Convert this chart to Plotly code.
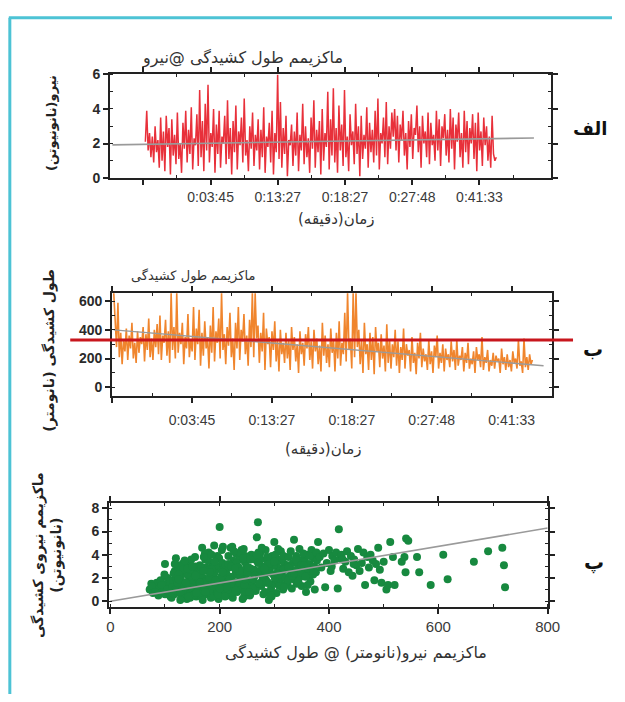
import numpy as np
import plotly.graph_objects as go

# ---------------------------------------------------------------- data
# (الف) maximum force per event, nN, in recording order
force_nn = [
    2.1, 3.9, 1.6, 2.6, 1.2, 2.4, 0.9, 3.0, 1.5, 2.2,
    0.6, 3.5, 1.0, 2.7, 0.4, 3.6, 1.8, 2.9, 0.2, 3.4,
    1.3, 2.5, 0.8, 3.8, 1.1, 2.0, 0.3, 3.2, 1.7, 3.9,
    0.9, 2.8, 1.4, 4.1, 0.5, 2.3, 1.9, 3.7,
    0.7, 5.1, 1.2, 3.3, 0.4, 4.3, 1.6, 5.4, 0.9, 2.6,
    1.8, 4.0, 0.3, 3.1, 1.4, 3.9, 0.6, 2.4, 2.0, 3.6,
    0.8, 4.5, 1.1, 2.9, 0.2, 3.3, 1.5, 4.2, 0.5, 2.7,
    1.9, 3.5, 0.9, 4.6, 1.3, 2.2, 0.4, 3.0, 1.7, 3.8,
    0.7, 2.5,
    1.6, 3.4, 0.5, 2.8, 1.2, 4.1, 0.3, 2.4, 1.8, 3.2,
    0.9, 3.9, 0.2, 2.6, 1.5, 6.0, 1.1, 4.4, 0.6, 2.9,
    1.4, 3.6, 0.1, 2.2, 1.9, 3.1, 0.7, 2.7, 1.3, 3.8,
    0.4, 2.5, 1.6, 4.3, 0.8, 3.0, 1.2, 2.3, 0.3, 3.5,
    1.7, 4.5,
    0.6, 2.8, 1.5, 3.3, 0.2, 4.0, 1.0, 2.6, 1.8, 5.0,
    0.5, 3.4, 1.3, 5.2, 0.9, 2.9, 0.3, 4.2, 1.6, 3.1,
    0.7, 5.1, 1.2, 2.4, 0.4, 3.7, 1.9, 2.7, 0.8, 4.3,
    1.4, 3.0, 0.1, 3.6, 1.1, 2.5, 1.7, 4.1, 0.6, 3.2,
    1.5, 2.8, 0.9, 3.9, 1.3, 4.6, 0.5, 2.6, 2.0, 3.5,
    1.2, 4.4, 0.8, 3.0, 1.7, 3.8,
    2.4, 4.0, 1.6, 3.6, 0.9, 3.1, 2.2, 3.9, 1.3, 2.6,
    0.5, 3.3, 1.8, 3.7, 1.1, 2.9, 2.5, 4.2, 1.5, 3.0,
    0.6, 3.6, 2.0, 2.7, 1.2, 3.8, 0.8, 3.2, 1.9, 2.5,
    1.0, 3.9, 1.6, 3.4, 0.7, 3.0, 2.3, 3.7, 1.3, 2.8,
    0.9, 4.0, 1.7, 3.5, 0.5, 3.1, 2.1, 3.8, 1.2, 2.6,
    0.6, 3.9, 1.5, 3.3, 0.8, 2.9, 2.0, 3.7, 1.1, 3.2,
    0.4, 3.8, 1.6, 2.7, 0.7, 3.5, 1.9, 3.0, 1.0, 2.4,
    0.6, 3.6, 1.4, 1.0, 1.2,
]
force_trend_t = [-0.46, 5.81]
force_trend_nn = [1.92, 2.32]

# (ب) maximum extension length per event, nm
extension_nm = [
    660, 420, 280, 590, 210, 380, 160, 330, 250, 410,
    190, 360, 270, 450, 200, 310, 170, 390, 240, 350,
    300, 420, 180, 370, 260, 480, 210, 340, 190, 400,
    280, 440,
    230, 500, 190, 360, 310, 470, 220, 390, 170, 660,
    260, 420, 200, 660, 240, 380, 300, 450, 160, 350,
    270, 510, 210, 330, 250, 560, 190, 410,
    300, 540, 150, 380, 220, 460, 270, 350, 130, 430,
    240, 560, 180, 390, 310, 480, 200, 660, 260, 370,
    160, 420, 290, 520, 210, 340, 120, 450,
    270, 560, 190, 400, 320, 510, 230, 360, 150, 470,
    280, 660, 210, 660, 340, 430, 170, 380, 250, 520,
    120, 410, 300, 350, 140, 390, 260, 460, 180, 330,
    110, 400, 230, 310, 170,
    380, 200, 330, 120, 420, 260, 350, 180, 300, 100,
    390, 230, 310, 150, 370, 270, 420, 190, 320, 130,
    400, 250, 340, 160, 290, 110, 450, 220, 360, 170,
    300, 140, 410, 240, 330, 110, 380, 200, 460, 150,
    310, 230,
    520, 180, 660, 260, 340, 130, 660, 210, 660, 280,
    400, 160, 330, 100, 450, 230, 300, 120, 380, 190,
    350, 90, 420, 250, 310, 140, 370, 200, 290, 110,
    440, 170, 330, 130, 300,
    210, 400, 150, 320, 100, 280, 190, 410, 130, 300,
    220, 260, 110, 350, 170, 240, 90, 310, 200, 380,
    140, 270, 180, 230, 120, 330, 160, 250, 100, 290,
    210, 360, 130, 240, 170, 300, 110, 270, 190, 230,
    140, 320,
    180, 260, 120, 330, 150, 220, 190, 280, 110, 240,
    170, 310, 130, 200, 160, 250, 100, 280, 190, 230,
    140, 350, 120, 210, 170, 260, 110, 190, 150, 240,
    130, 220, 180, 200, 100, 270, 160, 210, 120, 230,
    140, 190, 110, 250, 170, 200, 130, 330, 150, 180,
    100, 340, 140, 210, 120, 230, 160, 190,
]
extension_trend_t = [0.02, 5.4]
extension_trend_nm = [400, 150]
extension_mean_nm = 330

# time tick labels (minutes)
time_ticks = ["0:03:45", "0:13:27", "0:18:27", "0:27:48", "0:41:33"]

# (پ) force at maximum extension vs extension
scatter_ext_nm = [
    72, 75, 78, 80, 83, 85, 88, 90, 92, 95, 97, 100, 100, 103, 105, 107, 108, 110, 76, 86,
    94, 99, 104, 82, 109,
    112, 115, 118, 120, 122, 125, 127, 130, 132, 135, 137, 140, 142, 145, 147, 150, 152, 155, 157, 160,
    113, 117, 121, 124, 128, 131, 134, 138, 141, 144, 148, 151, 154, 158, 116, 119, 126, 133, 139, 146,
    153, 159, 114, 123, 129, 136, 143, 149, 156, 120, 125, 135, 145, 155, 118,
    162, 164, 166, 168, 170, 172, 174, 176, 178, 180, 182, 184, 186, 188, 190, 192, 194, 196, 198, 200,
    202, 204, 206, 208, 210, 163, 167, 171, 175, 179, 183, 187, 191, 195, 199, 203, 207, 165, 173, 181,
    189, 197, 205, 169, 177, 185, 193, 201, 209, 200, 161, 171, 186, 196, 206, 176, 191, 166, 181, 203,
    212, 214, 216, 218, 220, 222, 224, 226, 228, 230, 232, 234, 236, 238, 240, 242, 244, 246, 248, 250,
    252, 254, 256, 258, 260, 213, 217, 221, 225, 229, 233, 237, 241, 245, 249, 253, 257, 215, 223, 231,
    239, 247, 255, 219, 227, 235, 243, 251, 259, 211, 226, 236, 246, 256, 221, 241, 216, 231, 251, 244,
    262, 264, 266, 268, 270, 272, 274, 276, 278, 280, 282, 284, 286, 288, 290, 292, 294, 296, 298, 300,
    302, 304, 306, 308, 310, 312, 314, 316, 318, 320, 263, 267, 271, 275, 279, 283, 287, 291, 295, 299,
    303, 307, 311, 315, 319, 270, 268, 285, 300, 290, 265, 277, 289, 305, 317,
    322, 324, 326, 328, 330, 332, 334, 336, 338, 340, 342, 344, 346, 348, 350, 352, 354, 356, 358, 360,
    362, 364, 366, 368, 370, 372, 374, 376, 378, 380, 325, 331, 335, 341, 347, 353, 359, 365, 371, 377,
    329, 339, 349, 361, 373,
    383, 386, 390, 393, 396, 400, 403, 406, 410, 413, 416, 418, 420, 423, 426, 430, 433, 436, 440, 443,
    446, 450, 453, 456, 460, 463, 466, 470, 473, 476, 480, 483, 486, 490, 493, 496, 500, 405, 425, 445,
    505, 508, 512, 517, 520, 533, 538, 540, 541, 561, 565, 586, 609, 617, 665, 691, 717, 720, 722, 545,
    125, 133, 141, 149, 157, 165, 173, 181, 189, 197, 205, 213, 221, 229, 237, 245, 253, 261, 269, 277,
    285, 293, 301, 309, 317, 325, 333, 341, 349, 357, 128, 146, 164, 182, 200, 218, 236, 254, 272, 290,
    308, 326, 344, 362, 138, 156, 174, 192, 210, 228, 246, 264, 282, 300, 318, 336, 354, 372, 150, 170,
]
scatter_force_nn = [
    1.0, 1.5, 0.7, 1.2, 0.9, 1.6, 0.5, 1.1, 1.8, 0.8, 1.3, 3.2, 0.6, 1.5, 2.0, 0.9, 1.2, 0.4, 1.3, 0.7,
    1.4, 2.3, 1.0, 0.8, 1.7,
    0.3, 1.8, 2.6, 3.7, 0.8, 1.4, 2.2, 0.5, 3.0, 1.1, 2.5, 0.2, 1.7, 3.4, 0.9, 2.1, 1.3, 3.8, 0.4, 2.8,
    1.2, 0.6, 1.9, 2.9, 0.1, 1.5, 3.3, 0.7, 2.3, 1.0, 3.6, 0.5, 2.0, 1.4, 2.4, 1.0, 3.1, 2.7, 1.6, 0.3,
    2.6, 1.1, 0.7, 1.6, 2.0, 3.5, 0.4, 1.8, 3.0, 0.9, 2.3, 1.3, 2.7, 0.6, 3.2,
    1.0, 3.1, 0.4, 4.6, 2.0, 1.3, 3.6, 0.6, 2.6, 4.2, 1.5, 0.3, 3.3, 2.2, 4.8, 0.8, 1.9, 3.9, 0.2, 2.8,
    1.2, 4.4, 0.6, 3.0, 1.7, 2.4, 1.6, 0.9, 2.9, 3.5, 0.7, 1.4, 2.5, 1.1, 3.7, 0.5, 2.3, 1.8, 4.1, 2.7,
    0.4, 1.6, 3.3, 0.1, 1.2, 4.0, 3.1, 1.9, 0.9, 6.4, 2.0, 3.8, 2.7, 0.7, 4.7, 1.7, 3.4, 2.9, 0.9, 2.1,
    2.4, 0.5, 3.9, 1.3, 4.6, 2.0, 0.3, 3.2, 1.6, 4.1, 0.8, 2.7, 3.6, 1.1, 4.4, 0.2, 2.2, 3.4, 1.5, 0.9,
    3.8, 2.5, 0.6, 4.0, 1.8, 1.4, 2.9, 0.7, 3.5, 2.3, 1.0, 4.2, 2.6, 0.4, 3.0, 1.7, 2.8, 1.0, 4.7, 3.3,
    1.9, 3.9, 0.5, 2.1, 1.2, 2.9, 3.7, 2.4, 1.3, 3.1, 4.3, 1.6, 0.8, 3.6, 1.5, 2.0, 3.2, 2.6, 1.1, 4.5,
    1.9, 3.6, 0.9, 5.5, 6.8, 2.6, 4.1, 1.3, 3.0, 0.6, 2.2, 4.4, 1.6, 3.4, 0.1, 2.8, 1.1, 3.9, 2.3, 1.5,
    4.0, 0.7, 2.9, 3.5, 1.8, 4.3, 2.5, 1.0, 3.2, 2.0, 2.7, 1.2, 4.2, 3.6, 2.1, 0.8, 3.8, 2.5, 0.4, 3.1,
    1.9, 4.5, 2.6, 3.7, 1.4, 3.3, 4.0, 1.8, 5.1, 2.9, 0.9, 4.6, 1.6, 2.4, 3.9,
    2.9, 1.5, 3.8, 2.2, 4.3, 1.1, 3.3, 5.3, 2.6, 3.9, 1.8, 3.0, 4.5, 2.4, 1.3, 3.6, 2.8, 3.4, 0.8, 4.0,
    2.2, 3.2, 1.7, 4.4, 2.9, 3.7, 1.0, 2.5, 3.5, 5.1, 3.1, 2.7, 1.9, 3.4, 2.1, 4.1, 2.6, 3.9, 2.3, 4.2,
    2.0, 3.6, 3.1, 1.4, 3.0,
    3.8, 2.9, 4.1, 1.2, 3.3, 4.4, 2.6, 3.9, 3.5, 4.2, 1.1, 6.2, 3.7, 4.0, 2.8, 3.4, 4.3, 2.5, 3.9, 2.2,
    3.6, 3.1, 4.5, 2.6, 3.3, 4.2, 1.4, 3.8, 2.9, 4.0, 3.5, 1.8, 3.2, 4.6, 2.7, 1.6, 3.4, 3.0, 3.6, 3.2,
    1.0, 1.4, 5.1, 3.8, 1.4, 3.4, 3.8, 2.5, 5.4, 3.8, 2.5, 1.4, 4.0, 1.9, 3.4, 4.3, 4.6, 3.1, 1.2, 5.2,
    1.9, 0.9, 2.8, 1.5, 0.7, 2.3, 1.0, 2.0, 1.3, 0.6, 2.5, 1.2, 3.0, 0.9, 2.1, 1.4, 2.9, 1.1, 2.4, 1.7,
    2.6, 0.5, 2.0, 1.3, 2.7, 1.8, 2.2, 1.5, 2.5, 2.1, 0.8, 1.2, 1.6, 2.5, 1.1, 1.9, 2.6, 0.8, 1.5, 3.2,
    2.3, 2.9, 1.7, 2.8, 1.6, 2.2, 0.8, 1.8, 0.4, 2.8, 1.9, 2.2, 2.8, 3.4, 1.2, 2.4, 3.1, 2.6, 3.0, 2.6,
]
fit_ext_nm = [0, 800]
fit_force_nn = [0.0, 6.3]

assert len(scatter_ext_nm) == len(scatter_force_nn)

# ---------------------------------------------------------------- layout helpers
W, H = 625, 702


def fx(p):
    return p / W


def fy(p):
    return 1 - p / H


RED = "#e8303a"
ORANGE = "#f0852d"
GREEN = "#17893f"
GREY = "#9a9a9a"
INK = "#222222"
FA = "DejaVu Sans"
NUM = "Liberation Sans"

# sample positions along each recording
t_force = np.linspace(0.03, 5.25, len(force_nn))
t_ext = np.linspace(0.02, 5.26, len(extension_nm))

fig = go.Figure()

fig.add_trace(go.Scatter(x=t_force, y=force_nn, mode="lines",
                         line=dict(color=RED, width=1.5), xaxis="x", yaxis="y"))
fig.add_trace(go.Scatter(x=force_trend_t, y=force_trend_nn, mode="lines",
                         line=dict(color=GREY, width=1.6), xaxis="x", yaxis="y"))

fig.add_trace(go.Scatter(x=t_ext, y=extension_nm, mode="lines",
                         line=dict(color=ORANGE, width=1.6), xaxis="x2", yaxis="y2"))
fig.add_trace(go.Scatter(x=extension_trend_t, y=extension_trend_nm, mode="lines",
                         line=dict(color=GREY, width=1.4), xaxis="x2", yaxis="y2"))

fig.add_trace(go.Scatter(x=scatter_ext_nm, y=scatter_force_nn, mode="markers",
                         marker=dict(color=GREEN, size=8, line=dict(width=0)),
                         xaxis="x3", yaxis="y3"))
fig.add_trace(go.Scatter(x=fit_ext_nm, y=fit_force_nn, mode="lines",
                         line=dict(color=GREY, width=1.6), xaxis="x3", yaxis="y3"))


def axis(domain, rng, **kw):
    d = dict(domain=domain, range=rng, showline=True, linecolor=INK, linewidth=2,
             mirror="allticks", ticks="outside", ticklen=5, tickwidth=1.5, tickcolor=INK,
             showgrid=False, zeroline=False, fixedrange=True)
    d.update(kw)
    return d


xfont = dict(family=NUM, size=14, color="#3a3a3a")
yfont = dict(family=NUM, size=14, color="#2a2a2a", weight="bold")
minor_in = dict(ticks="inside", ticklen=3, tickcolor=INK, tickwidth=1.2, showgrid=False)

fig.update_layout(
    width=W, height=H, margin=dict(l=0, r=0, t=0, b=0),
    paper_bgcolor="white", plot_bgcolor="white", showlegend=False,
    xaxis=axis([fx(110), fx(562)], [-0.493, 6.058], anchor="y",
               tickmode="array", tickvals=[0, 1, 2, 3, 4, 5], ticktext=[""] + time_ticks,
               tickfont=xfont, minor=dict(tickvals=[-0.5, 0.5, 1.5, 2.5, 3.5, 4.5, 5.5], **minor_in)),
    yaxis=axis([fy(174), fy(68)], [0, 6], anchor="x",
               tickmode="array", tickvals=[0, 2, 4, 6], tickfont=yfont,
               minor=dict(dtick=1, **minor_in)),
    xaxis2=axis([fx(112), fx(563)], [0, 5.5], anchor="y2",
                tickmode="array", tickvals=[0, 1, 2, 3, 4, 5], ticktext=[""] + time_ticks,
                tickfont=xfont, ticklabelstandoff=5,
                minor=dict(tickvals=[0.5, 1.5, 2.5, 3.5, 4.5], **minor_in)),
    yaxis2=axis([fy(397), fy(292)], [-61, 655], anchor="x2",
                tickmode="array", tickvals=[0, 200, 400, 600], tickfont=yfont,
                minor=dict(dtick=100, **minor_in)),
    xaxis3=axis([fx(109), fx(559)], [-2, 800], anchor="y3",
                tickmode="array", tickvals=[0, 200, 400, 600, 800],
                tickfont=dict(family=NUM, size=15, color="#3a3a3a"),
                minor=dict(dtick=100, **minor_in)),
    yaxis3=axis([fy(613), fy(507)], [-0.5, 8.42], anchor="x3",
                tickmode="array", tickvals=[0, 2, 4, 6, 8], tickfont=yfont,
                minor=dict(dtick=1, **minor_in)),
)

# mean extension marker line across panel (ب)
fig.add_shape(type="line", xref="paper", yref="y2", x0=fx(69), x1=fx(585),
              y0=extension_mean_nm, y1=extension_mean_nm,
              line=dict(color="#c8161d", width=3), layer="above")

# page frame
FRAME = "#4dc3d5"
fig.add_shape(type="line", xref="paper", yref="paper", x0=fx(6), x1=1, y0=fy(10), y1=fy(10),
              line=dict(color=FRAME, width=3))
fig.add_shape(type="line", xref="paper", yref="paper", x0=fx(7), x1=fx(7), y0=fy(10), y1=0,
              line=dict(color=FRAME, width=3))


def note(text, x, y, size, color="#222", angle=0, bold=False):
    fig.add_annotation(text=text, x=fx(x), y=fy(y), xref="paper", yref="paper",
                       xanchor="center", yanchor="middle", showarrow=False, textangle=angle,
                       font=dict(family=FA, size=size, color=color,
                                 weight="bold" if bold else "normal"))


# panel (الف)
note("ماکزیمم طول کشیدگی @نیرو", 246, 51, 16, "#333")
note("نیرو(نانونیوتن)", 50, 118, 13, "#222", -90, True)
note("زمان(دقیقه)", 342, 216, 15, "#333")
note("الف", 602, 123, 18, "#111", 0, True)

# panel (ب)
note("ماکزیمم طول کشیدگی", 195, 274, 13, "#333")
note("طول کشیدگی (نانومتر)", 47, 350, 14, "#222", -90, True)
note("زمان(دقیقه)", 329, 451, 15, "#333")
note("ب", 606, 349, 20, "#111", 0, True)

# panel (پ)
note("ماکزیمم نیروی کشیدگی<br>(نانونیوتن)", 45, 560, 14, "#222", -90, True)
note("ماکزیمم نیرو(نانومتر) @ طول کشیدگی", 362, 660, 16, "#333")
note("پ", 607, 567, 20, "#111", 0, True)

fig.write_html("out.html")
